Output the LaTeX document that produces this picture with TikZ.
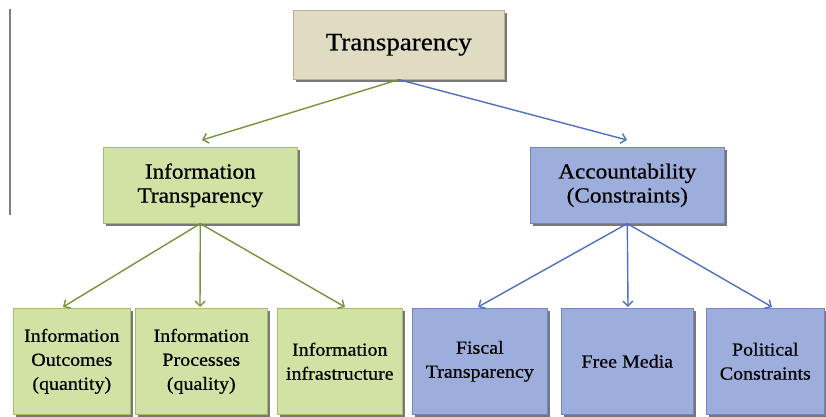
\documentclass[tikz,border=0pt]{standalone}
\usepackage{fontspec}
\setmainfont{Liberation Serif}[FakeStretch=1.08,FakeBold=0.6]
\usetikzlibrary{arrows.meta,shadows}
\definecolor{beige}{HTML}{E0DCC4}
\definecolor{beigeb}{HTML}{B8B090}
\definecolor{greenf}{HTML}{D2E2A4}
\definecolor{greenb}{HTML}{A4BC6C}
\definecolor{bluef}{HTML}{9EAEDC}
\definecolor{blueb}{HTML}{7486C0}
\definecolor{garrow}{HTML}{77933C}
\definecolor{barrow}{HTML}{4F71BE}
\tikzset{
  box/.style={draw, line width=0.6pt, inner sep=2pt, align=center, anchor=north west,
    drop shadow={shadow xshift=2.5pt, shadow yshift=-2.5pt, opacity=0.7, fill=black!75}},
  topbox/.style={box, fill=beige, draw=beigeb, font=\fontsize{25}{30}\selectfont},
  gmid/.style={box, fill=greenf, draw=greenb, font=\fontsize{21.5}{24}\selectfont},
  bmid/.style={box, fill=bluef, draw=blueb, font=\fontsize{21.5}{24}\selectfont},
  gbot/.style={box, fill=greenf, draw=greenb, font=\fontsize{18.5}{24}\selectfont},
  bbot/.style={box, fill=bluef, draw=blueb, font=\fontsize{18.5}{24}\selectfont},
  garr/.style={draw=garrow, line width=1.4pt, -{Straight Barb[length=5pt,width=10pt,line width=1.4pt]}},
  barr/.style={draw=barrow, line width=1.4pt, -{Straight Barb[length=5pt,width=10pt,line width=1.4pt]}},
}
\begin{document}
\begin{tikzpicture}[x=1pt,y=-1pt]
\useasboundingbox (0,0) rectangle (826,417);
\fill[white] (0,0) rectangle (826,417);
\coordinate (v1) at (10,9);
\coordinate (v2) at (10,215);
\draw[gray, line width=1.5pt] (v1) -- (v2);
% top
\node[topbox, minimum width=211pt, minimum height=69pt] (t) at (293,10) {Transparency};
% middle
\node[gmid, minimum width=194pt, minimum height=76pt] (it) at (103,147) {Information\\Transparency};
\node[bmid, minimum width=194pt, minimum height=76pt] (ac) at (530,147) {Accountability\\(Constraints)};
% bottom
\node[gbot, minimum width=117pt, minimum height=106pt] (b1) at (13,308) {Information\\Outcomes\\(quantity)};
\node[gbot, minimum width=132pt, minimum height=106pt] (b2) at (135,308) {Information\\Processes\\(quality)};
\node[gbot, minimum width=125pt, minimum height=106pt] (b3) at (277,308) {Information\\infrastructure};
\node[bbot, minimum width=135pt, minimum height=106pt] (b4) at (412,308) {Fiscal\\Transparency};
\node[bbot, minimum width=132pt, minimum height=106pt] (b5) at (561,308) {Free Media};
\node[bbot, minimum width=118pt, minimum height=106pt] (b6) at (706,308) {Political\\Constraints};
% arrow targets
\coordinate (tit) at (202,140);
\coordinate (tac) at (627,140);
\coordinate (tb1) at (63,307);
\coordinate (tb2) at (200,307);
\coordinate (tb3) at (345,307);
\coordinate (tb4) at (478,307);
\coordinate (tb5) at (628,307);
\coordinate (tb6) at (772,307);
\draw[garr] (t.south) -- (tit);
\draw[barr] (t.south) -- (tac);
\draw[garr] (it.south) -- (tb1);
\draw[garr] (it.south) -- (tb2);
\draw[garr] (it.south) -- (tb3);
\draw[barr] (ac.south) -- (tb4);
\draw[barr] (ac.south) -- (tb5);
\draw[barr] (ac.south) -- (tb6);
\end{tikzpicture}
\end{document}
